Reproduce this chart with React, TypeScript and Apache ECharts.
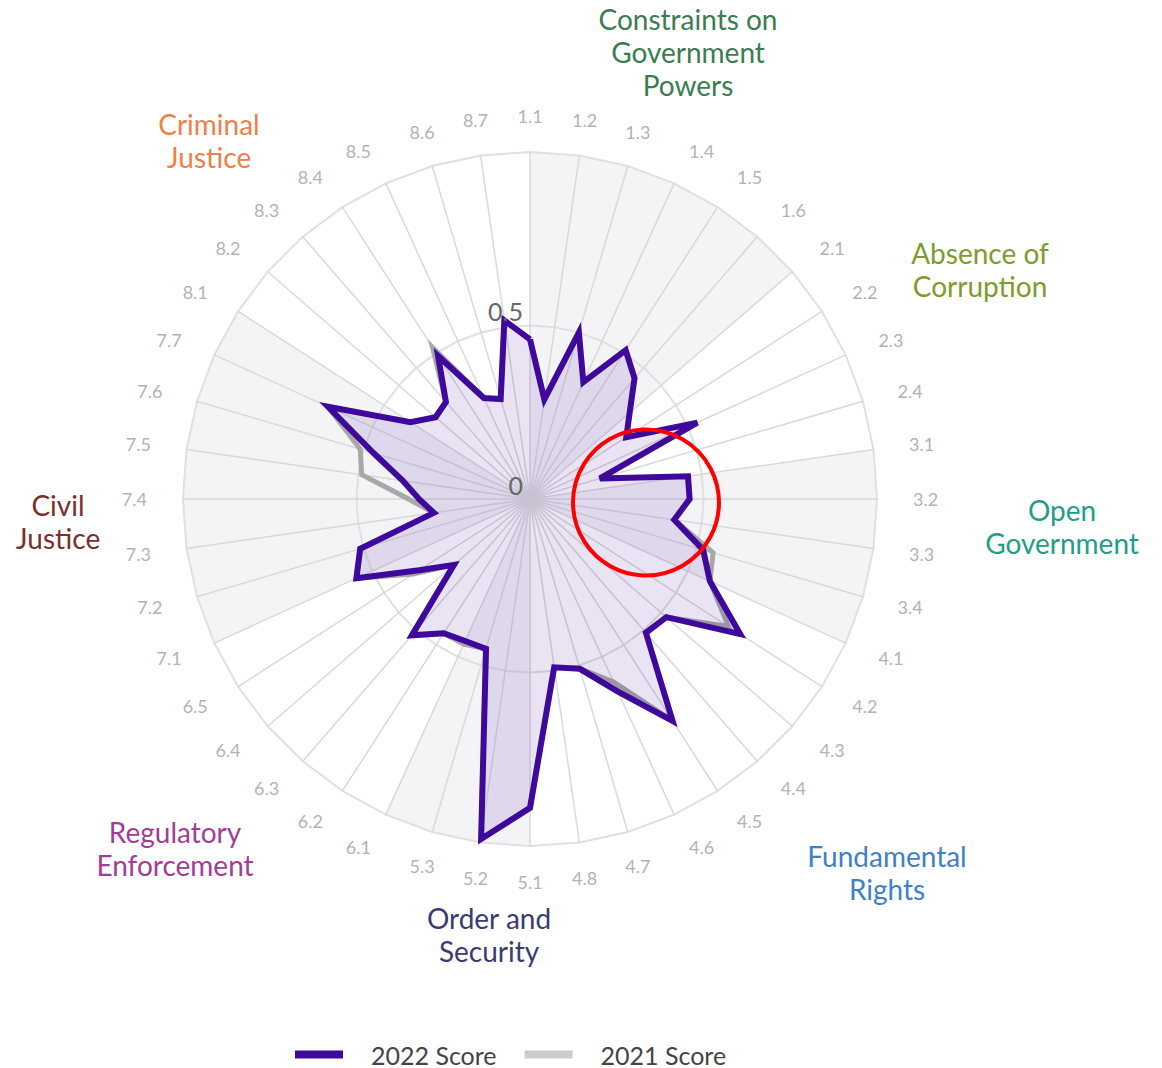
import React, { useEffect, useRef } from "react";
import * as echarts from "echarts";

// Indicator codes, clockwise from the top
const indicatorCodes = [
  "1.1", "1.2", "1.3", "1.4", "1.5", "1.6",
  "2.1", "2.2", "2.3", "2.4",
  "3.1", "3.2", "3.3", "3.4",
  "4.1", "4.2", "4.3", "4.4", "4.5", "4.6", "4.7", "4.8",
  "5.1", "5.2", "5.3",
  "6.1", "6.2", "6.3", "6.4", "6.5",
  "7.1", "7.2", "7.3", "7.4", "7.5", "7.6", "7.7",
  "8.1", "8.2", "8.3", "8.4", "8.5", "8.6", "8.7",
];

const score2022 = [
  0.46, 0.29, 0.5, 0.37, 0.51, 0.46,
  0.38, 0.33, 0.53, 0.21,
  0.46, 0.46, 0.42, 0.52,
  0.57, 0.72, 0.52, 0.51, 0.76, 0.61, 0.51, 0.49,
  0.89, 0.99, 0.45,
  0.45, 0.46, 0.52, 0.29, 0.38,
  0.55, 0.51, 0.28, 0.32, 0.37, 0.47, 0.64,
  0.41, 0.36, 0.37, 0.49, 0.32, 0.3, 0.52,
];

const score2021 = [
  0.46, 0.29, 0.5, 0.37, 0.51, 0.46,
  0.38, 0.33, 0.53, 0.21,
  0.46, 0.46, 0.42, 0.55,
  0.57, 0.68, 0.52, 0.51, 0.76, 0.58, 0.51, 0.49,
  0.89, 0.99, 0.45,
  0.46, 0.46, 0.52, 0.29, 0.4,
  0.55, 0.51, 0.28, 0.35, 0.49, 0.51, 0.64,
  0.41, 0.36, 0.37, 0.52, 0.32, 0.3, 0.52,
];

// Shaded wedges (from spoke index to spoke index, clockwise)
const shadedBands = [
  [0, 6],
  [10, 14],
  [22, 25],
  [30, 37],
];

const radiusTicks = [0, 0.5];

const pillarNames = [
  "Constraints on\nGovernment\nPowers",
  "Absence of\nCorruption",
  "Open\nGovernment",
  "Fundamental\nRights",
  "Order and\nSecurity",
  "Regulatory\nEnforcement",
  "Civil\nJustice",
  "Criminal\nJustice",
];

const pillarColors = [
  "#3b7d4e",
  "#7d9c2c",
  "#1f9e86",
  "#3f80c6",
  "#3b3a72",
  "#a23d96",
  "#7b2e2e",
  "#ee8048",
];

// Layout of the pillar captions (centre of text block)
const pillarLabelPos = [
  [688, 52],
  [980, 269.5],
  [1062, 526.5],
  [887, 872.5],
  [489, 934.5],
  [175, 848.5],
  [58, 521.5],
  [209, 140.5],
];

const CX = 530;
const CY = 499;
const R = 347;
const LABEL_R = 383;

const seriesNames = ["2022 Score", "2021 Score"];

export default function App() {
  const ref = useRef<HTMLDivElement>(null);

  useEffect(() => {
    document.body.style.margin = "0";
    if (!ref.current) return;
    const chart = echarts.init(ref.current, null, { renderer: "svg" });

    const n = indicatorCodes.length;
    // ECharts radar runs counter-clockwise: reorder so that it reads clockwise
    const order = [0];
    for (let k = n - 1; k >= 1; k--) order.push(k);

    const indicator = order.map((k) => ({ name: indicatorCodes[k], min: 0, max: 1 }));
    const v2022 = order.map((k) => score2022[k]);
    const v2021 = order.map((k) => score2021[k]);

    const bandSeries = shadedBands.map((b, i) => ({
      type: "radar",
      name: "band" + i,
      z: 1,
      silent: true,
      symbol: "none",
      lineStyle: { width: 0, opacity: 0 },
      areaStyle: { color: "#f4f3f6", opacity: 1 },
      data: [{ value: order.map((k) => (k >= b[0] && k <= b[1] ? 1 : 0)) }],
    }));

    const graphics: any[] = [];
    // indicator labels (Highcharts-like placement)
    indicatorCodes.forEach((code, k) => {
      const a = (k * 2 * Math.PI) / n;
      const s = Math.sin(a);
      const c = Math.cos(a);
      const align = Math.abs(s) < 0.35 ? "center" : s > 0 ? "left" : "right";
      graphics.push({
        type: "text",
        z: 100,
        x: CX + LABEL_R * s,
        y: CY - LABEL_R * c,
        style: {
          text: code,
          align,
          verticalAlign: "middle",
          fontSize: 18,
          fontFamily: "Lato",
          fill: "#b3b3b3",
        },
      });
    });
    radiusTicks.forEach((t) => {
      graphics.push({
        type: "text",
        z: 100,
        x: CX - 7,
        y: CY - t * R - 2,
        style: {
          text: String(t),
          align: "right",
          verticalAlign: "bottom",
          fontSize: 25,
          fontFamily: "Lato",
          fill: "#666666",
        },
      });
    });
    pillarNames.forEach((name, i) => {
      graphics.push({
        type: "text",
        z: 100,
        x: pillarLabelPos[i][0],
        y: pillarLabelPos[i][1],
        style: {
          text: name,
          align: "center",
          verticalAlign: "middle",
          fontSize: 28,
          lineHeight: 33,
          fontFamily: "Lato",
          fill: pillarColors[i],
        },
      });
    });
    graphics.push({
      type: "circle",
      z: 101,
      shape: { cx: 646, cy: 502.5, r: 73 },
      style: { fill: "transparent", stroke: "#ff0000", lineWidth: 4 },
    });

    const option: any = {
      animation: false,
      backgroundColor: "#ffffff",
      textStyle: { fontFamily: "Lato" },
      legend: {
        data: [
          { name: seriesNames[0], icon: "rect", itemStyle: { color: "#3f0a9b", borderWidth: 0 } },
          { name: seriesNames[1], icon: "rect", itemStyle: { color: "#cccccc", borderWidth: 0 } },
        ],
        left: 290,
        top: 1037,
        itemWidth: 48,
        itemHeight: 8,
        itemGap: 28,
        selectedMode: false,
        textStyle: {
          fontSize: 25,
          color: "#444444",
          fontFamily: "Lato",
          padding: [0, 0, 0, 23],
        },
      },
      radar: {
        z: 2,
        center: [CX, CY],
        radius: R,
        startAngle: 90,
        shape: "polygon",
        splitNumber: 2,
        axisName: { show: false },
        indicator,
        splitArea: { show: false },
        splitLine: { lineStyle: { color: "#e0e0e0", width: 2 } },
        axisLine: { lineStyle: { color: "#d9d9d9", width: 1.5 } },
        axisTick: { show: false },
        axisLabel: { show: false },
      },
      series: [
        ...bandSeries,
        {
          type: "radar",
          name: seriesNames[1],
          z: 3,
          symbol: "none",
          itemStyle: { color: "#cccccc" },
          lineStyle: { color: "#a8a8a8", width: 5, join: "miter" },
          data: [{ value: v2021, name: seriesNames[1] }],
        },
        {
          type: "radar",
          name: seriesNames[0],
          z: 4,
          symbol: "none",
          itemStyle: { color: "#3f0a9b" },
          lineStyle: { color: "#3f0a9b", width: 6, join: "miter" },
          areaStyle: { color: "#3f0a9b", opacity: 0.115 },
          data: [{ value: v2022, name: seriesNames[0] }],
        },
      ],
      graphic: graphics,
    };

    chart.setOption(option);
    return () => chart.dispose();
  }, []);

  return <div ref={ref} style={{ width: 1162, height: 1068 }} />;
}
